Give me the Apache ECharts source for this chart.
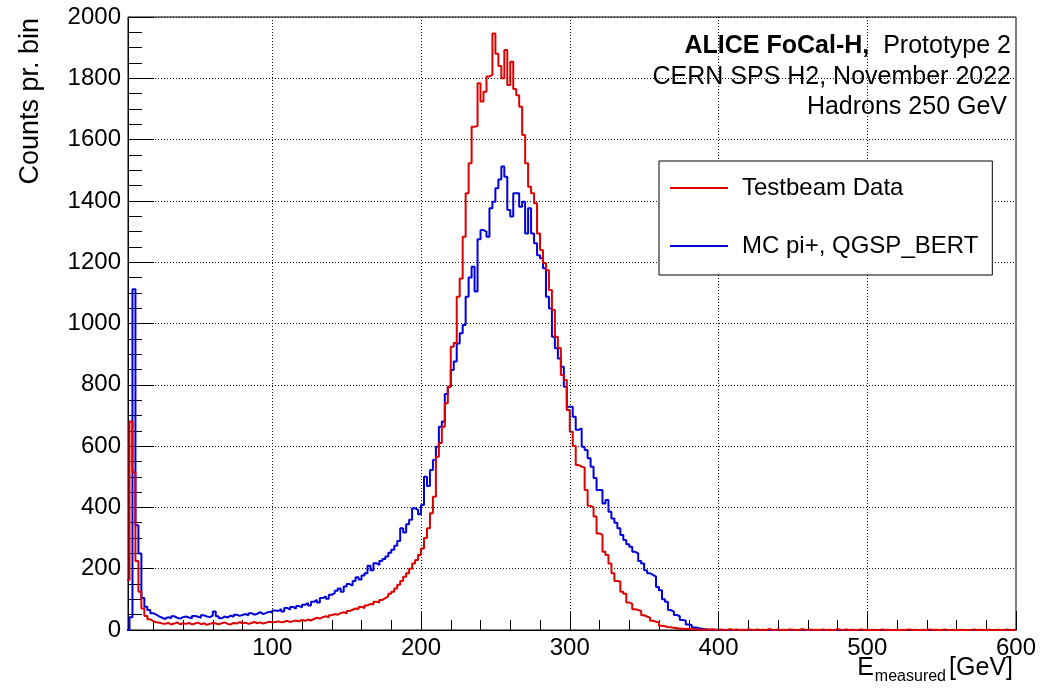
<!DOCTYPE html>
<html><head><meta charset="utf-8">
<script src="https://cdn.jsdelivr.net/npm/echarts@6/dist/echarts.min.js"></script>
<style>html,body{margin:0;padding:0;background:#fff}#c{width:1054px;height:689px}</style>
</head><body><div id="c"></div>
<script>
// ---- data (2 GeV bins, first bin starts at 2 GeV) ----
const FIRST_EDGE = 2;
const BIN_WIDTH = 2;
const X_MIN = 3, X_MAX = 600;
const Y_MIN = 0, Y_MAX = 2000, Y_STEP = 200;

const testbeamData = [
  163, 680, 515, 225, 125, 70, 46, 35, 29, 25,
  24, 21, 20, 23, 18, 21, 25, 19, 22, 20,
  23, 18, 21, 24, 19, 22, 17, 20, 23, 21,
  19, 22, 25, 20, 18, 23, 21, 26, 22, 24,
  20, 23, 26, 22, 25, 21, 24, 27, 25, 26,
  28, 25, 27, 30, 26, 29, 31, 28, 33, 30,
  34, 31, 36, 40, 37, 42, 45, 41, 48, 52,
  50, 55, 58, 54, 62, 66, 70, 68, 75, 72,
  80, 85, 83, 92, 90, 98, 104, 110, 118, 125,
  135, 148, 160, 174, 185, 200, 217, 228, 245, 266,
  300, 332, 381, 435, 565, 610, 663, 740, 794, 924,
  936, 1087, 1147, 1283, 1425, 1523, 1642, 1644, 1784, 1724,
  1756, 1806, 1811, 1946, 1880, 1840, 1800, 1892, 1778, 1854,
  1765, 1745, 1707, 1615, 1523, 1446, 1425, 1392, 1294, 1240,
  1197, 1174, 1109, 1044, 957, 920, 832, 816, 718, 647,
  600, 538, 533, 530, 457, 405, 400, 370, 315, 310,
  255, 245, 217, 185, 160, 158, 125, 118, 90, 85,
  68, 65, 62, 48, 44, 40, 30, 27, 25, 14,
  12, 10, 9, 7, 6, 5, 4, 3, 4, 2,
  3, 1, 2, 0, 2, 1, 3, 0, 1, 2,
  0, 1, 3, 0, 2, 0, 1, 0, 2, 1,
  0, 2, 0, 1, 0, 3, 1, 0, 2, 0,
  1, 0, 2, 1, 0, 0, 3, 1, 0, 2,
  0, 1, 0, 2, 0, 1, 0, 0, 3, 1,
  0, 2, 0, 1, 0, 0, 2, 0, 1, 0,
  1, 0, 0, 2, 0, 1, 0, 0, 1, 0,
  0, 0, 2, 0, 1, 0, 0, 1, 0, 2,
  0, 1, 0, 0, 2, 0, 0, 1, 0, 0,
  1, 0, 0, 0, 2, 0, 1, 0, 0, 1,
  0, 0, 1, 0, 0, 2, 0, 0, 1
];

const mcData = [
  0, 42, 1112, 342, 250, 104, 76, 65, 55, 50,
  44, 40, 36, 42, 38, 45, 40, 37, 42, 44,
  41, 38, 46, 43, 40, 48, 44, 42, 47, 60,
  45, 38, 44, 41, 47, 43, 50, 46, 49, 52,
  48, 55, 50, 53, 58, 52, 56, 60, 57, 64,
  62, 68, 60, 72, 66, 75, 70, 78, 74, 82,
  88, 80, 92, 98, 90, 104, 110, 102, 115, 120,
  128, 135, 125, 142, 150, 145, 160, 172, 165, 178,
  185, 210, 195, 218, 212, 225, 232, 240, 252, 262,
  275, 290, 332, 318, 345, 360, 397, 392, 378, 408,
  500, 470, 522, 555, 598, 663, 680, 770, 794, 848,
  876, 935, 968, 995, 1087, 1150, 1185, 1104, 1275, 1305,
  1300, 1283, 1376, 1397, 1441, 1470, 1512, 1479, 1370, 1349,
  1425, 1425, 1381, 1397, 1294, 1376, 1294, 1262, 1223, 1213,
  1180, 1087, 1049, 957, 919, 886, 859, 794, 728, 728,
  696, 653, 658, 598, 587, 560, 533, 496, 457, 457,
  413, 424, 386, 364, 350, 332, 310, 294, 280, 272,
  255, 250, 225, 217, 195, 185, 180, 174, 140, 130,
  100, 92, 65, 60, 49, 45, 33, 30, 18, 16,
  8, 7, 5, 3, 2, 1, 0, 1, 0, 0,
  0, 0, 0, 0, 0, 0, 0, 0, 0, 0,
  0, 0, 0, 0, 0, 0, 0, 0, 0, 0,
  0, 0, 0, 0, 0, 0, 0, 0, 0, 0,
  0, 0, 0, 0, 0, 0, 0, 0, 0, 0,
  0, 0, 0, 0, 0, 0, 0, 0, 0, 0,
  0, 0, 0, 0, 0, 0, 0, 0, 0, 0,
  0, 0, 0, 0, 0, 0, 0, 0, 0, 0,
  0, 0, 0, 0, 0, 0, 0, 0, 0, 0,
  0, 0, 0, 0, 0, 0, 0, 0, 0, 0,
  0, 0, 0, 0, 0, 0, 0, 0, 0
];

const seriesNames = ['Testbeam Data', 'MC pi+, QGSP_BERT'];
const xMajorTicks = [100, 200, 300, 400, 500, 600];
const xMinorTicks = [20, 40, 60, 80, 120, 140, 160, 180, 220, 240, 260, 280, 320, 340, 360, 380,
                     420, 440, 460, 480, 520, 540, 560, 580];
const yAxisTitle = 'Counts pr. bin';
const xAxisTitle = ['E', 'measured', '[GeV]'];
const infoBold = 'ALICE FoCal-H,';
const infoLines = ['Prototype 2', 'CERN SPS H2, November 2022', 'Hadrons 250 GeV'];

// ---- build ----
function toSteps(vals) {
  const pts = vals.map((v, i) => [FIRST_EDGE + BIN_WIDTH * i, v]);
  pts.push([FIRST_EDGE + BIN_WIDTH * vals.length, vals[vals.length - 1]]);
  return pts;
}

const FONT = '"Liberation Sans", Arial, Helvetica, sans-serif';
const RED = '#dd0000', BLUE = '#0000dd';
const dotted = { type: [1, 2], color: '#111', width: 1 };

const chart = echarts.init(document.getElementById('c'), null, { renderer: 'canvas' });
chart.setOption({
  animation: false,
  backgroundColor: '#fff',
  grid: { left: 128, top: 17, width: 888, height: 613, show: true, borderColor: '#000', borderWidth: 1, backgroundColor: 'transparent' },
  xAxis: [
    {
      type: 'value', min: X_MIN, max: X_MAX, position: 'bottom',
      axisLine: { show: true, onZero: false, lineStyle: { color: '#000', width: 1 } },
      axisTick: { show: true, inside: true, length: 19, customValues: xMajorTicks, lineStyle: { color: '#000', width: 1 } },
      axisLabel: { show: true, customValues: xMajorTicks, margin: 6, color: '#000', fontSize: 24, fontFamily: FONT,
                   formatter: v => String(v) },
      splitLine: { show: false }
    },
    {
      type: 'value', min: X_MIN, max: X_MAX, position: 'bottom',
      axisLine: { show: false, onZero: false },
      axisTick: { show: true, inside: true, length: 10, customValues: xMinorTicks, lineStyle: { color: '#000', width: 1 } },
      axisLabel: { show: false },
      splitLine: { show: false }
    }
  ],
  yAxis: {
    type: 'value', min: Y_MIN, max: Y_MAX, interval: Y_STEP,
    axisLine: { show: true, lineStyle: { color: '#000', width: 1 } },
    axisTick: { show: true, inside: true, length: 26, lineStyle: { color: '#000', width: 1 } },
    minorTick: { show: true, splitNumber: 4, length: 14, lineStyle: { color: '#000', width: 1 } },
    axisLabel: { margin: 7, color: '#000', fontSize: 24, fontFamily: FONT, formatter: v => String(v) },
    splitLine: { show: true, lineStyle: dotted }
  },
  legend: {
    data: seriesNames.map(n => ({ name: n, icon: 'rect' })),
    orient: 'vertical', left: 659, top: 161,
    backgroundColor: '#fff', borderColor: '#000', borderWidth: 1,
    padding: [15, 14, 17, 11],
    itemWidth: 58, itemHeight: 2, itemGap: 34,
    textStyle: { fontSize: 24, fontFamily: FONT, color: '#000', padding: [0, 0, 0, 9], lineHeight: 24 },
    z: 10
  },
  series: [
    {
      type: 'line', name: 'grid', data: [], silent: true, z: 1,
      markLine: {
        silent: true, symbol: 'none', animation: false,
        label: { show: false },
        lineStyle: dotted,
        data: xMajorTicks.slice(0, -1).map(v => ({ xAxis: v }))
      }
    },
    {
      type: 'line', name: seriesNames[1], data: toSteps(mcData), step: 'end',
      showSymbol: false, symbol: 'none', z: 3,
      lineStyle: { color: BLUE, width: 2 }, itemStyle: { color: BLUE }
    },
    {
      type: 'line', name: seriesNames[0], data: toSteps(testbeamData), step: 'end',
      showSymbol: false, symbol: 'none', z: 4,
      lineStyle: { color: RED, width: 2 }, itemStyle: { color: RED }
    }
  ],
  graphic: [
    { type: 'text', x: 31, y: 18, rotation: Math.PI / 2,
      style: { text: yAxisTitle, align: 'right', verticalAlign: 'middle', fontSize: 27, fontFamily: FONT, fill: '#000' } },
    { type: 'text', x: 874, y: 668,
      style: { text: xAxisTitle[0], align: 'right', verticalAlign: 'middle', fontSize: 25, fontFamily: FONT, fill: '#000' } },
    { type: 'text', x: 946, y: 677,
      style: { text: xAxisTitle[1], align: 'right', verticalAlign: 'middle', fontSize: 16, fontFamily: FONT, fill: '#000' } },
    { type: 'text', x: 1013, y: 668,
      style: { text: xAxisTitle[2], align: 'right', verticalAlign: 'middle', fontSize: 25, fontFamily: FONT, fill: '#000' } },
    { type: 'text', x: 1011, y: 46,
      style: { text: '{b|' + infoBold + '}  {n|' + infoLines[0] + '}', align: 'right', verticalAlign: 'middle',
        rich: { b: { fontSize: 25, fontWeight: 'bold', fontFamily: FONT, fill: '#000' },
                n: { fontSize: 25, fontFamily: FONT, fill: '#000' } }, fontSize: 25, fontFamily: FONT, fill: '#000' } },
    { type: 'text', x: 1011, y: 77,
      style: { text: infoLines[1], align: 'right', verticalAlign: 'middle', fontSize: 25, fontFamily: FONT, fill: '#000' } },
    { type: 'text', x: 1007, y: 107,
      style: { text: infoLines[2], align: 'right', verticalAlign: 'middle', fontSize: 25, fontFamily: FONT, fill: '#000' } }
  ]
});
</script>
</body></html>
